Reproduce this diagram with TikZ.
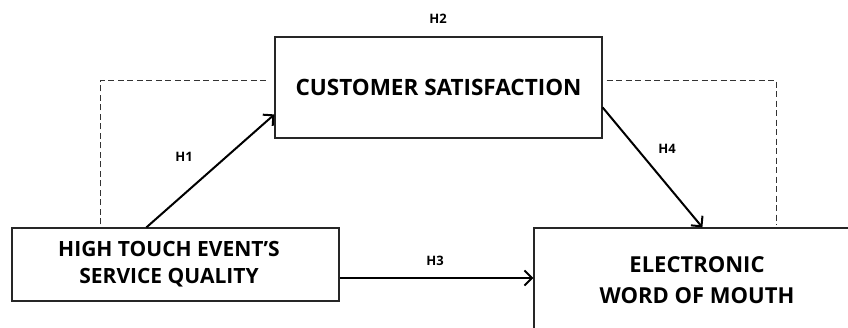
\documentclass[tikz,border=0pt]{standalone}
\usepackage{fontspec}
\setmainfont{Open Sans}
\usetikzlibrary{arrows.meta,calc}

\tikzset{
  varbox/.style={draw=black!85, line width=1.2pt, align=center, inner sep=0pt,
    font=\bfseries\fontsize{21}{27}\selectfont},
  path arrow/.style={line width=2pt,
    -{Straight Barb[length=7.5pt,width=15pt,line width=2pt]}},
  med line/.style={line width=1pt, dash pattern=on 6pt off 3.5pt, black!80},
  hyp/.style={font=\bfseries\fontsize{13}{15}\selectfont},
}

\begin{document}
\begin{tikzpicture}[x=1pt,y=-1pt]
  \clip (0,0) rectangle (848,327);
  \fill[white] (0,0) rectangle (848,327);
  %variables
  \node[varbox, minimum width=327pt, minimum height=101pt,
    font=\bfseries\fontsize{22.5}{27}\selectfont] (sat) at (438.5,87.5) {CUSTOMER SATISFACTION};
  \node[varbox, minimum width=327pt, minimum height=73pt] (sq) at (175.5,264.5)
    {HIGH TOUCH EVENT’S\hspace*{13pt}\\SERVICE QUALITY\hspace*{13pt}};
  \node[varbox, minimum width=326pt, minimum height=104pt,
    font=\bfseries\fontsize{22}{31}\selectfont] (ewom) at (697,280) {ELECTRONIC\\WORD OF MOUTH};
  %direct paths
  \coordinate (h1s) at ($(sq.north west)+(135,0)$);
  \coordinate (h1e) at ($(sat.north west)+(0,78)$);
  \coordinate (h4s) at ($(sat.north east)+(0,71)$);
  \coordinate (h4e) at ($(ewom.north west)+(169,0)$);
  \draw[path arrow] (h1s) -- (h1e);
  \draw[path arrow] (h4s) -- (h4e);
  \draw[path arrow] (sq.east |- 0,278) -- (ewom.west |- 0,278);
  %mediation
  \draw[med line] ($(sq.north west)+(89,-3)$) |- ($(sat.north west)+(-5,44)$);
  \draw[med line] ($(sat.north east)+(4,44)$) -| ($(ewom.north west)+(243,-3)$);
  %hypotheses
  \node[hyp] (h2) at (438,19) {H2};
  \node[hyp] (h1) at (184,157) {H1};
  \node[hyp] (h3) at (435,261) {H3};
  \node[hyp] (h4) at (667,149) {H4};
\end{tikzpicture}
\end{document}
